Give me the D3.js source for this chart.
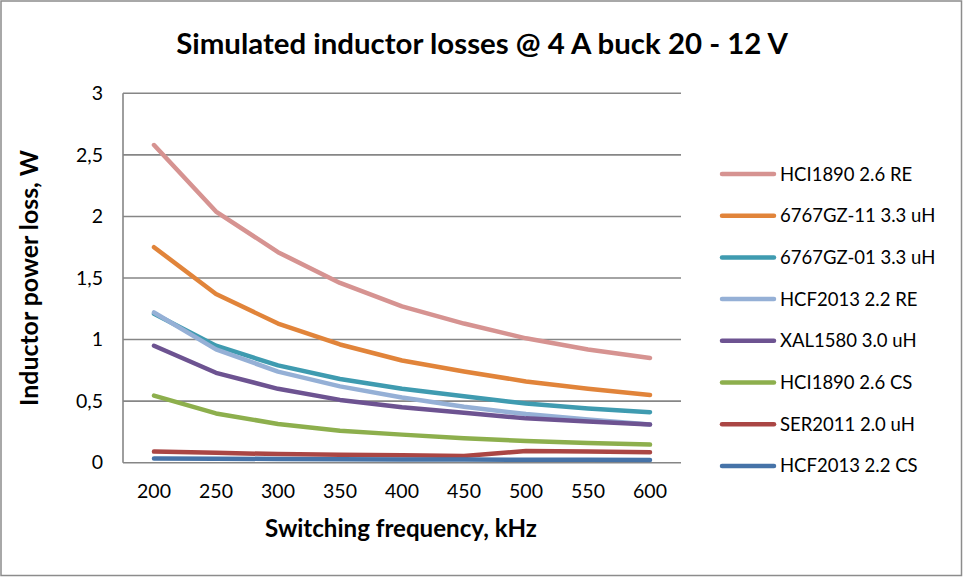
<!DOCTYPE html>
<html><head><meta charset="utf-8">
<script src="https://cdn.jsdelivr.net/npm/d3@7"></script>
<style>body{margin:0;background:#fff}svg{display:block;font-family:Lato,'Open Sans',sans-serif}</style>
</head><body><svg id="c" width="963" height="577"></svg>
<script>
const categories = [200, 250, 300, 350, 400, 450, 500, 550, 600];
const seriesNames = ["HCI1890 2.6 RE","6767GZ-11 3.3 uH","6767GZ-01 3.3 uH","HCF2013 2.2 RE","XAL1580 3.0 uH","HCI1890 2.6 CS","SER2011 2.0 uH","HCF2013 2.2 CS"];
const seriesColors = ["#D69391","#E1843A","#3F9BB0","#95B0D6","#6D5391","#8DAF4D","#AA4644","#4673A8"];
const hci1890RE = [2.58, 2.04, 1.71, 1.46, 1.27, 1.13, 1.01, 0.92, 0.85];
const gz11 = [1.75, 1.37, 1.13, 0.96, 0.83, 0.74, 0.66, 0.60, 0.55];
const gz01 = [1.21, 0.95, 0.79, 0.68, 0.60, 0.54, 0.48, 0.44, 0.41];
const hcf2013RE = [1.22, 0.92, 0.74, 0.62, 0.53, 0.455, 0.395, 0.35, 0.31];
const xal1580 = [0.95, 0.73, 0.60, 0.51, 0.45, 0.405, 0.36, 0.335, 0.31];
const hci1890CS = [0.545, 0.40, 0.315, 0.26, 0.228, 0.198, 0.176, 0.16, 0.147];
const ser2011 = [0.09, 0.08, 0.07, 0.065, 0.06, 0.055, 0.095, 0.09, 0.085];
const hcf2013CS = [0.035, 0.033, 0.03, 0.028, 0.027, 0.025, 0.024, 0.023, 0.022];
const yTicks = [0, 0.5, 1, 1.5, 2, 2.5, 3];
const yTickLabels = ["0", "0,5", "1", "1,5", "2", "2,5", "3"];
const allSeries = [hci1890RE, gz11, gz01, hcf2013RE, xal1580, hci1890CS, ser2011, hcf2013CS];

const FONT = "Lato,'Open Sans',sans-serif";
const svg = d3.select("#c");
svg.append("rect").attr("x",1).attr("y",1).attr("width",960.5).attr("height",574.5)
  .attr("fill","#fff").attr("stroke","#8c8c8c").attr("stroke-width",1.5);

const L = 123, R = 681, T = 93.3, B = 462.7;
const x = d3.scaleBand().domain(categories).range([L, R]);
const y = d3.scaleLinear().domain([0, 3]).range([B, T]);

svg.append("g").selectAll("line").data(yTicks).join("line")
  .attr("x1", L).attr("x2", R).attr("y1", d => y(d)).attr("y2", d => y(d))
  .attr("stroke", "#868686").attr("stroke-width", 1.6);
svg.append("line").attr("x1",L).attr("x2",L).attr("y1",T).attr("y2",B)
  .attr("stroke","#868686").attr("stroke-width",1.6);

const yAxis = d3.axisLeft(y).tickValues(yTicks).tickSize(0).tickPadding(20)
  .tickFormat((d,i) => yTickLabels[i]);
const gy = svg.append("g").attr("transform", `translate(${L},0)`).call(yAxis);
gy.select(".domain").remove();
gy.selectAll("text").attr("font-size", 19.5).attr("fill", "#000").attr("font-family", FONT);

const xAxis = d3.axisBottom(x).tickSize(0).tickPadding(21);
const gx = svg.append("g").attr("transform", `translate(0,${B})`).call(xAxis);
gx.select(".domain").remove();
gx.selectAll("text").attr("font-size", 19.5).attr("fill", "#000").attr("font-family", FONT);

const line = d3.line().x((d,i) => x(categories[i]) + x.bandwidth()/2).y(d => y(d));
svg.append("g").selectAll("path").data(allSeries).join("path")
  .attr("d", d => line(d)).attr("fill","none")
  .attr("stroke", (d,i) => seriesColors[i]).attr("stroke-width", 4.5)
  .attr("stroke-linecap","round").attr("stroke-linejoin","round");

function fit(sel, target) {
  const w = sel.node().getComputedTextLength();
  const fs = parseFloat(sel.attr("font-size"));
  sel.attr("font-size", fs * target / w);
}

const title = svg.append("text").attr("x", 482).attr("y", 54).attr("text-anchor","middle")
  .attr("font-size", 26).attr("font-weight","bold").text("Simulated inductor losses @ 4 A buck 20 - 12 V");
fit(title, 612);
const xl = svg.append("text").attr("x", 401).attr("y", 537).attr("text-anchor","middle")
  .attr("font-size", 20).attr("font-weight","bold").text("Switching frequency, kHz");
fit(xl, 272);
const yl = svg.append("text").attr("transform", "translate(38,278) rotate(-90)").attr("text-anchor","middle")
  .attr("font-size", 20).attr("font-weight","bold").text("Inductor power loss, W");
fit(yl, 256);

const lg = svg.append("g").selectAll("g").data(seriesNames).join("g")
  .attr("transform", (d,i) => `translate(0,${174 + i*41.7})`);
lg.append("line").attr("x1",722).attr("x2",774).attr("y1",0).attr("y2",0)
  .attr("stroke",(d,i) => seriesColors[i]).attr("stroke-width",4.5).attr("stroke-linecap","round");
lg.append("text").attr("x",780).attr("y",6.5).attr("font-size",18.5).text(d => d);
</script></body></html>
